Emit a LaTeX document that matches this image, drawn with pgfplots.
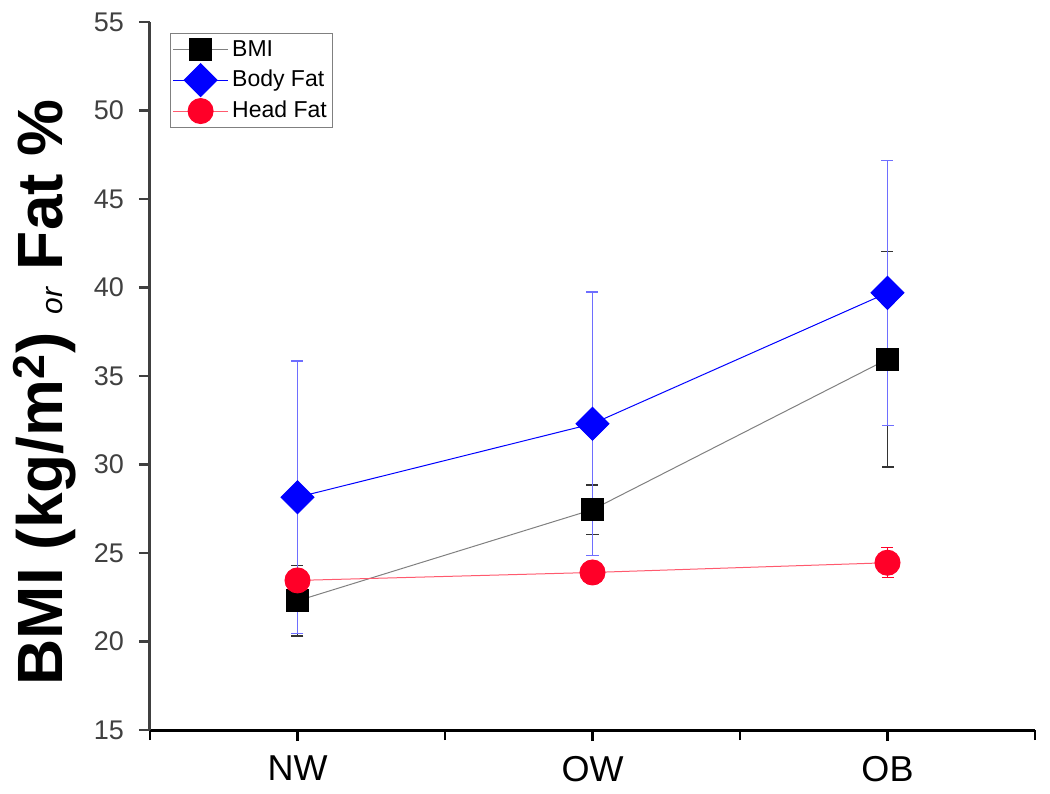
\documentclass[border=0pt]{standalone}
\usepackage{pgfplots}
\pgfplotsset{compat=1.18}
\usepackage{fontspec}
\setmainfont{Liberation Sans}
\definecolor{hfred}{RGB}{255,0,40}
\definecolor{hfline}{RGB}{255,90,110}
\definecolor{bfblue}{RGB}{0,0,255}
\definecolor{bferr}{RGB}{110,110,255}
\definecolor{axgray}{RGB}{64,64,64}
\begin{document}
\begin{tikzpicture}
\begin{axis}[
  scale only axis,
  width=442.5pt, height=354pt,
  xmin=0.5, xmax=3.5, ymin=15, ymax=55,
  axis x line=bottom, axis y line=left,
  axis line style={-, line width=1.5pt},
  x axis line style={black},
  y axis line style={axgray},
  xtick={1,2,3}, xticklabels={NW,OW,OB},
  minor xtick={0.5,1.5,2.5,3.5},
  ytick={15,20,...,55},
  tick align=outside,
  major tick length=5.5pt, minor tick length=5pt,
  every tick/.style={line width=1.2pt},
  xtick style={black}, ytick style={axgray},
  /pgf/number format/assume math mode=true,
  yticklabel style={font=\fontsize{13.5}{15}\selectfont, text=axgray, xshift=-4pt},
  xticklabel style={font=\fontsize{18}{20}\selectfont, text=black, yshift=-4pt},
  ylabel={\fontsize{32}{36}\selectfont\bfseries BMI (kg/m\textsuperscript{2}) {\fontsize{15}{16}\selectfont\itshape\mdseries or} Fat \%},
  ylabel style={at={(axis description cs:-0.1186,0.477)}, anchor=center},
  legend style={at={(0,1)}, anchor=north west, xshift=10pt, yshift=-5.5pt,
    draw=gray, line width=0.6pt, font=\fontsize{11.5}{13}\selectfont,
    inner xsep=1pt, inner ysep=1.5pt, row sep=0.5pt,
    nodes={inner sep=1.8pt}},
  legend cell align=left,
  legend image code/.code={%
    \draw[mark repeat=2, mark phase=2] plot coordinates {(0pt,0pt) (13.75pt,0pt) (27.5pt,0pt)};},
  clip=false,
]
\addplot[color=gray, line width=0.5pt,
  mark=square*, mark size=5.5pt, mark options={solid, fill=black, draw=black},
  error bars/.cd, y dir=both, y explicit,
  error bar style={black!80, line width=0.7pt},
  error mark options={rotate=90, mark size=3pt, black!80, line width=0.7pt}]
  table[x=x, y=y, y error=e] {
x y e
1 22.3 2.0
2 27.45 1.4
3 35.95 6.1
};
\addlegendentry{BMI}
\addplot[color=bfblue, line width=0.5pt,
  mark=diamond*, mark size=8.25pt, mark options={solid, xscale=1.33, fill=bfblue, draw=bfblue},
  error bars/.cd, y dir=both, y explicit,
  error bar style={bferr, line width=0.7pt},
  error mark options={rotate=90, mark size=3pt, bferr, line width=0.7pt}]
  table[x=x, y=y, y error=e] {
x y e
1 28.15 7.7
2 32.3 7.45
3 39.7 7.48
};
\addlegendentry{Body Fat}
\addplot[color=hfline, line width=0.5pt,
  mark=*, mark size=6.25pt, mark options={solid, fill=hfred, draw=hfred},
  error bars/.cd, y dir=both, y explicit,
  error bar style={hfred, line width=0.7pt},
  error mark options={rotate=90, mark size=3pt, hfred, line width=0.7pt}]
  table[x=x, y=y, y error=e] {
x y e
1 23.45 0.6
2 23.9 0.6
3 24.45 0.85
};
\addlegendentry{Head Fat}
\end{axis}
\pgfresetboundingbox
\path[use as bounding box] (-75pt,-31.5pt) rectangle (450pt,365pt);
\end{tikzpicture}
\end{document}
